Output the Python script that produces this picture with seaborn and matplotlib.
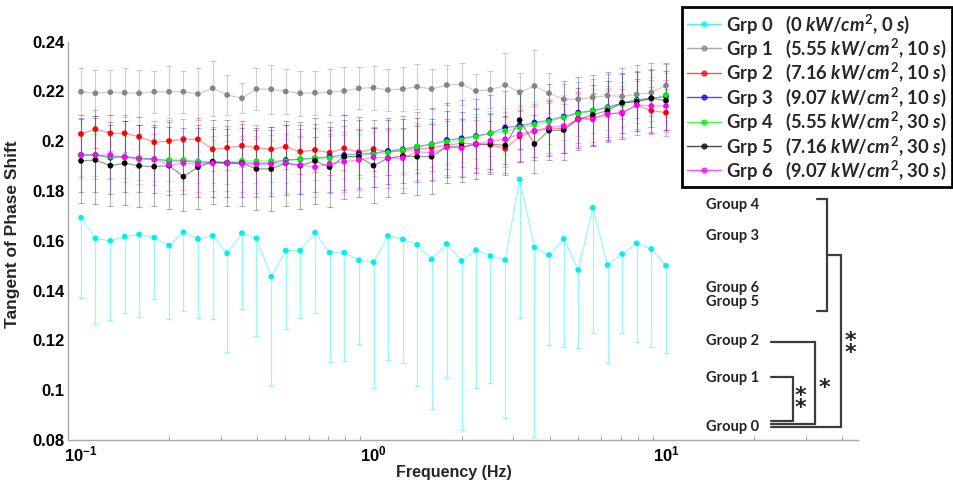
import matplotlib
matplotlib.use("Agg")
import matplotlib.pyplot as plt
import seaborn as sns
import pandas as pd
from matplotlib.lines import Line2D
from matplotlib.ticker import FixedLocator, FixedFormatter, LogLocator, NullFormatter

# ---------------- data ----------------
freq = [0.1, 0.112, 0.126, 0.141, 0.158, 0.178, 0.2, 0.224, 0.251, 0.282, 0.316,
        0.355, 0.398, 0.447, 0.501, 0.562, 0.631, 0.708, 0.794, 0.891, 1.0,
        1.12, 1.26, 1.41, 1.58, 1.78, 2.0, 2.24, 2.51, 2.82, 3.16,
        3.55, 3.98, 4.47, 5.01, 5.62, 6.31, 7.08, 7.94, 8.91, 10.0]

grp0 = [0.1693, 0.1610, 0.1600, 0.1617, 0.1626, 0.1613, 0.1581, 0.1635, 0.1608, 0.1620, 0.1550,
        0.1631, 0.1610, 0.1456, 0.1561, 0.1561, 0.1633, 0.1553, 0.1553, 0.1522, 0.1514,
        0.1620, 0.1606, 0.1584, 0.1526, 0.1588, 0.1519, 0.1563, 0.1539, 0.1523, 0.1847,
        0.1574, 0.1543, 0.1608, 0.1483, 0.1733, 0.1503, 0.1547, 0.1590, 0.1567, 0.1500]
grp1 = [0.2199, 0.2193, 0.2197, 0.2195, 0.2193, 0.2199, 0.2199, 0.2199, 0.2190, 0.2213, 0.2186,
        0.2173, 0.2210, 0.2209, 0.2200, 0.2193, 0.2195, 0.2197, 0.2202, 0.2213, 0.2215,
        0.2206, 0.2210, 0.2219, 0.2210, 0.2226, 0.2229, 0.2202, 0.2207, 0.2226, 0.2197,
        0.2222, 0.2193, 0.2169, 0.2169, 0.2176, 0.2184, 0.2180, 0.2188, 0.2196, 0.2224]
grp2 = [0.2029, 0.2049, 0.2032, 0.2032, 0.2018, 0.1996, 0.2001, 0.2008, 0.2008, 0.1968, 0.1974,
        0.1982, 0.1974, 0.1968, 0.1978, 0.1958, 0.1965, 0.1954, 0.1972, 0.1956, 0.1969,
        0.1958, 0.1961, 0.1968, 0.1974, 0.1985, 0.1992, 0.1989, 0.1985, 0.1970, 0.2020,
        0.2040, 0.2052, 0.2050, 0.2092, 0.2092, 0.2112, 0.2112, 0.2146, 0.2123, 0.2115]
grp3 = [0.1945, 0.1945, 0.1934, 0.1938, 0.1932, 0.1928, 0.1921, 0.1921, 0.1916, 0.1914, 0.1914,
        0.1914, 0.1912, 0.1912, 0.1925, 0.1928, 0.1932, 0.1938, 0.1945, 0.1949, 0.1952,
        0.1961, 0.1968, 0.1978, 0.1988, 0.2005, 0.2012, 0.2021, 0.2032, 0.2055, 0.2062,
        0.2075, 0.2085, 0.2099, 0.2115, 0.2123, 0.2137, 0.2153, 0.2166, 0.2173, 0.2179]
grp4 = [0.1945, 0.1945, 0.1938, 0.1938, 0.1932, 0.1928, 0.1925, 0.1925, 0.1920, 0.1918, 0.1916,
        0.1922, 0.1921, 0.1921, 0.1921, 0.1929, 0.1932, 0.1932, 0.1936, 0.1941, 0.1948,
        0.1954, 0.1965, 0.1978, 0.1988, 0.1998, 0.2005, 0.2018, 0.2032, 0.2041, 0.2055,
        0.2067, 0.2079, 0.2095, 0.2110, 0.2122, 0.2135, 0.2149, 0.2163, 0.2169, 0.2186]
grp5 = [0.1921, 0.1925, 0.1902, 0.1912, 0.1901, 0.1898, 0.1902, 0.1858, 0.1896, 0.1918, 0.1912,
        0.1912, 0.1889, 0.1889, 0.1912, 0.1902, 0.1921, 0.1896, 0.1938, 0.1938, 0.1902,
        0.1932, 0.1941, 0.1938, 0.1938, 0.1978, 0.1978, 0.1988, 0.1989, 0.1983, 0.2085,
        0.1989, 0.2043, 0.2045, 0.2088, 0.2106, 0.2123, 0.2155, 0.2159, 0.2173, 0.2163]
grp6 = [0.1945, 0.1945, 0.1945, 0.1936, 0.1928, 0.1928, 0.1905, 0.1912, 0.1908, 0.1912, 0.1912,
        0.1909, 0.1908, 0.1909, 0.1912, 0.1905, 0.1896, 0.1910, 0.1918, 0.1925, 0.1936,
        0.1932, 0.1932, 0.1958, 0.1954, 0.1976, 0.1972, 0.1988, 0.2002, 0.2008, 0.2029,
        0.2043, 0.2056, 0.2061, 0.2088, 0.2088, 0.2108, 0.2116, 0.2146, 0.2142, 0.2142]

# error bar half-widths (Grp 0 shows only the lower bar)
err0 = [0.0321, 0.0344, 0.0318, 0.0305, 0.0330, 0.0246, 0.0296, 0.0317, 0.0319, 0.0335, 0.0395,
        0.0304, 0.0391, 0.0439, 0.0315, 0.0272, 0.0321, 0.0438, 0.0434, 0.0336, 0.0506,
        0.0498, 0.0495, 0.0567, 0.0602, 0.0540, 0.0678, 0.0555, 0.0511, 0.0635, 0.0558,
        0.0760, 0.0361, 0.0433, 0.0314, 0.0504, 0.0395, 0.0318, 0.0395, 0.0394, 0.0349]
err1 = [0.0095, 0.0093, 0.0090, 0.0098, 0.0095, 0.0085, 0.0105, 0.0085, 0.0105, 0.0110, 0.0080,
        0.0060, 0.0085, 0.0098, 0.0092, 0.0090, 0.0088, 0.0093, 0.0095, 0.0085, 0.0088,
        0.0085, 0.0090, 0.0090, 0.0080, 0.0080, 0.0085, 0.0070, 0.0075, 0.0127, 0.0076,
        0.0145, 0.0080, 0.0060, 0.0070, 0.0075, 0.0085, 0.0090, 0.0095, 0.0095, 0.0085]
err2 = [0.0077, 0.0075, 0.0073, 0.0074, 0.0078, 0.0085, 0.0085, 0.0082, 0.0085, 0.0088, 0.0088,
        0.0087, 0.0090, 0.0089, 0.0088, 0.0090, 0.0087, 0.0091, 0.0089, 0.0092, 0.0090,
        0.0092, 0.0093, 0.0094, 0.0095, 0.0096, 0.0097, 0.0098, 0.0097, 0.0099, 0.0105,
        0.0102, 0.0100, 0.0098, 0.0097, 0.0096, 0.0095, 0.0096, 0.0095, 0.0094, 0.0093]
err3 = [0.0147, 0.0147, 0.0145, 0.0142, 0.0134, 0.0136, 0.0136, 0.0134, 0.0138, 0.0137, 0.0137,
        0.0139, 0.0135, 0.0133, 0.0140, 0.0138, 0.0137, 0.0141, 0.0141, 0.0137, 0.0134,
        0.0131, 0.0134, 0.0141, 0.0145, 0.0148, 0.0154, 0.0148, 0.0154, 0.0145, 0.0145,
        0.0150, 0.0145, 0.0145, 0.0142, 0.0142, 0.0140, 0.0142, 0.0142, 0.0140, 0.0135]
err4 = [0.0085, 0.0086, 0.0084, 0.0085, 0.0086, 0.0087, 0.0085, 0.0086, 0.0088, 0.0087, 0.0086,
        0.0087, 0.0088, 0.0086, 0.0087, 0.0088, 0.0087, 0.0089, 0.0088, 0.0087, 0.0088,
        0.0089, 0.0090, 0.0089, 0.0090, 0.0091, 0.0090, 0.0091, 0.0090, 0.0092, 0.0091,
        0.0090, 0.0091, 0.0090, 0.0089, 0.0090, 0.0089, 0.0090, 0.0089, 0.0088, 0.0089]
err5 = [0.0170, 0.0175, 0.0162, 0.0168, 0.0165, 0.0160, 0.0175, 0.0140, 0.0170, 0.0168, 0.0172,
        0.0170, 0.0165, 0.0168, 0.0170, 0.0175, 0.0172, 0.0160, 0.0168, 0.0160, 0.0150,
        0.0155, 0.0150, 0.0155, 0.0150, 0.0145, 0.0140, 0.0140, 0.0120, 0.0118, 0.0115,
        0.0118, 0.0120, 0.0122, 0.0125, 0.0120, 0.0118, 0.0120, 0.0118, 0.0115, 0.0118]
err6 = [0.0094, 0.0096, 0.0098, 0.0100, 0.0100, 0.0102, 0.0105, 0.0108, 0.0110, 0.0110, 0.0112,
        0.0112, 0.0115, 0.0115, 0.0118, 0.0118, 0.0120, 0.0118, 0.0120, 0.0120, 0.0118,
        0.0120, 0.0118, 0.0115, 0.0115, 0.0112, 0.0112, 0.0110, 0.0112, 0.0110, 0.0110,
        0.0108, 0.0110, 0.0108, 0.0108, 0.0105, 0.0105, 0.0105, 0.0104, 0.0104, 0.0104]

group_names = ["Grp 0", "Grp 1", "Grp 2", "Grp 3", "Grp 4", "Grp 5", "Grp 6"]
conditions = [r"(0 $kW/cm^2$, 0 $s$)",
              r"(5.55 $kW/cm^2$, 10 $s$)",
              r"(7.16 $kW/cm^2$, 10 $s$)",
              r"(9.07 $kW/cm^2$, 10 $s$)",
              r"(5.55 $kW/cm^2$, 30 $s$)",
              r"(7.16 $kW/cm^2$, 30 $s$)",
              r"(9.07 $kW/cm^2$, 30 $s$)"]
colors = ["#00F0F0", "#858585", "#FF0000", "#0000FF", "#00EE00", "#000000", "#FF00FF"]

y_ticks = [0.08, 0.10, 0.12, 0.14, 0.16, 0.18, 0.20, 0.22, 0.24]
y_tick_labels = ["0.08", "0.1", "0.12", "0.14", "0.16", "0.18", "0.2", "0.22", "0.24"]
x_ticks = [0.1, 1.0, 10.0]
x_tick_labels = [r"$\mathbf{10^{-1}}$", r"$\mathbf{10^{0}}$", r"$\mathbf{10^{1}}$"]

sig_labels = ["Group 4", "Group 3", "Group 6", "Group 5", "Group 2", "Group 1", "Group 0"]
sig_marks = ["*\n*", "*", "*\n*"]

# ---------------- style ----------------
sns.set_theme(style="white")
plt.rcParams.update({
    "font.family": ["Liberation Sans", "DejaVu Sans"],
    "font.weight": "bold",
    "mathtext.fontset": "custom",
    "mathtext.rm": "Lato:bold",
    "mathtext.it": "Lato:italic:bold",
    "mathtext.bf": "Liberation Sans:bold",
})

W, H = 954, 492
fig = plt.figure(figsize=(W / 100, H / 100), dpi=100)
ax_l, ax_r, ax_t, ax_b = 68.3, 858.0, 41.7, 440.0
ax = fig.add_axes([ax_l / W, 1 - ax_b / H, (ax_r - ax_l) / W, (ax_b - ax_t) / H])

means = [grp0, grp1, grp2, grp3, grp4, grp5, grp6]
errs = [err0, err1, err2, err3, err4, err5, err6]

df = pd.concat([pd.DataFrame({"freq": freq, "val": m, "grp": g})
                for m, g in zip(means, group_names)], ignore_index=True)
pal = dict(zip(group_names, colors))

for i, (m, e, c) in enumerate(zip(means, errs, colors)):
    if i == 0:
        yerr = [e, [0.0] * len(e)]
        ax.errorbar(freq, m, yerr=yerr, fmt="none", ecolor=c, elinewidth=0.9,
                    capsize=2.0, capthick=0.9, alpha=0.4, zorder=1)
    else:
        ax.errorbar(freq, m, yerr=e, fmt="none", ecolor=c, elinewidth=0.8,
                    capsize=2.0, capthick=0.8, alpha=0.3 if i != 1 else 0.4, zorder=1)

sns.lineplot(data=df, x="freq", y="val", hue="grp", palette=pal, linewidth=0.9,
             alpha=0.4, legend=False, ax=ax, zorder=2)
sns.scatterplot(data=df, x="freq", y="val", hue="grp", palette=pal, s=17,
                linewidth=0, legend=False, ax=ax, zorder=3)

ax.set_xscale("log")
ax.set_xlim(10 ** (-1 - (81 - ax_l) / 292.5), 10 ** (-1 + (ax_r - 81) / 292.5))
ax.set_ylim(0.08, 0.24)

ax.yaxis.set_major_locator(FixedLocator(y_ticks))
ax.yaxis.set_major_formatter(FixedFormatter(y_tick_labels))
ax.xaxis.set_major_locator(FixedLocator(x_ticks))
ax.xaxis.set_major_formatter(FixedFormatter(x_tick_labels))
ax.xaxis.set_minor_locator(LogLocator(base=10, subs=[2, 3, 4, 5, 6, 7, 8, 9], numticks=20))
ax.xaxis.set_minor_formatter(NullFormatter())

for s in ["top", "right"]:
    ax.spines[s].set_visible(False)
for s in ["left", "bottom"]:
    ax.spines[s].set_color("#a8a8a8")
    ax.spines[s].set_linewidth(1.0)
ax.tick_params(which="both", direction="in", color="#a8a8a8", labelcolor="black")
ax.tick_params(which="major", length=5, width=0.8, labelsize=12, pad=3)
ax.tick_params(which="minor", length=3, width=0.8, bottom=True)
for lab in ax.get_yticklabels():
    lab.set_fontweight("bold")

ax.set_xlabel("Frequency (Hz)", fontsize=11.5, fontweight="bold")
ax.set_ylabel("Tangent of Phase Shift", fontsize=12.5, fontweight="bold")
ax.xaxis.set_label_coords((454 - ax_l) / (ax_r - ax_l), (ax_b - 465) / (ax_b - ax_t))
ax.yaxis.set_label_coords((20 - ax_l) / (ax_r - ax_l), (ax_b - 234) / (ax_b - ax_t))

# ---------------- legend ----------------
handles = [Line2D([0], [0], color=c, lw=1.0, alpha=0.7, marker="o", ms=3.5,
                  markerfacecolor=c, markeredgecolor=c) for c in colors]
labels = [f"{g}   {cnd}" for g, cnd in zip(group_names, conditions)]
leg = ax.legend(handles, labels, loc="upper right",
                bbox_to_anchor=(952 / W, 1 - 7 / H), bbox_transform=fig.transFigure,
                prop={"family": "Lato", "weight": "bold", "size": 13.2},
                frameon=True, fancybox=False, framealpha=1, edgecolor="black",
                borderpad=0.3, labelspacing=0.06, handlelength=1.85,
                handletextpad=0.25, borderaxespad=0)
leg.get_frame().set_linewidth(2.0)

# ---------------- significance brackets (figure pixel coords) ----------------
def fx(x):
    return x / W

def fy(y):
    return 1 - y / H

def seg(xs, ys):
    fig.add_artist(Line2D([fx(v) for v in xs], [fy(v) for v in ys],
                          transform=fig.transFigure, color="#3c3c3c", lw=1.6,
                          solid_joinstyle="miter"))

seg([816.7, 826.7, 826.7, 816.7], [199.3, 199.3, 310.7, 310.7])
seg([826.7, 840.7, 840.7, 771.0], [255.0, 255.0, 426.7, 426.7])
seg([771.0, 815.0, 815.0, 771.0], [341.7, 341.7, 424.0, 424.0])
seg([771.0, 793.3, 793.3, 771.0], [377.3, 377.3, 420.7, 420.7])

label_y = [205.0, 235.7, 287.7, 302.3, 340.7, 378.3, 426.7]
for lab, yy in zip(sig_labels, label_y):
    fig.text(fx(706), fy(yy), lab, ha="left", va="center", fontsize=10.5,
             fontweight="bold", family="Lato", color="#222222")

star_pos = [(800.7, 402.0), (824.0, 388.0), (850.0, 347.0)]
for txt, (sx, sy) in zip(sig_marks, star_pos):
    fig.text(fx(sx), fy(sy), txt, ha="center", va="center", fontsize=16,
             fontweight="bold", family="DejaVu Sans", color="#222222",
             linespacing=0.55)

fig.savefig("out.png", dpi=100)
